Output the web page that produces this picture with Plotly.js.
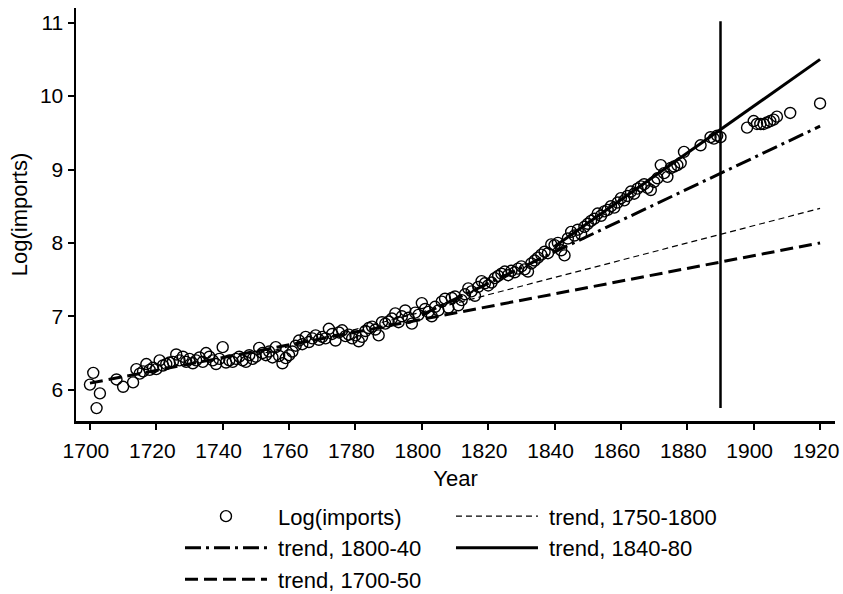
<!DOCTYPE html>
<html>
<head>
<meta charset="utf-8">
<script src="https://cdn.plot.ly/plotly-3.0.1.min.js"></script>
<style>html,body{margin:0;padding:0;background:#fff;}#chart{width:843px;height:594px;}</style>
</head>
<body>
<div id="chart"></div>
<script>
// Observed log(imports)
const years = [1700,1701,1702,1703,1708,1710,1713,1714,1715,1716,1717,1718,1719,1720,1721,1722,1723,1724,1725,1726,1727,1728,1729,1730,1731,1732,1733,1734,1735,1736,1737,1738,1739,1740,1741,1742,1743,1744,1745,1746,1747,1748,1749,1750,1751,1752,1753,1754,1755,1756,1757,1758,1759,1760,1761,1762,1763,1764,1765,1766,1767,1768,1769,1770,1771,1772,1773,1774,1775,1776,1777,1778,1779,1780,1781,1782,1783,1784,1785,1786,1787,1788,1789,1790,1791,1792,1793,1794,1795,1796,1797,1798,1799,1800,1801,1802,1803,1804,1805,1806,1807,1808,1809,1810,1811,1812,1813,1814,1815,1816,1817,1818,1819,1820,1821,1822,1823,1824,1825,1826,1827,1828,1829,1830,1831,1832,1833,1834,1835,1836,1837,1838,1839,1840,1841,1842,1843,1844,1845,1846,1847,1848,1849,1850,1851,1852,1853,1854,1855,1856,1857,1858,1859,1860,1861,1862,1863,1864,1865,1866,1867,1868,1869,1870,1871,1872,1873,1874,1875,1876,1877,1878,1879,1884,1887,1888,1889,1890,1898,1900,1901,1902,1903,1904,1905,1906,1907,1911,1920];
const logImports = [6.07,6.23,5.75,5.95,6.14,6.04,6.10,6.28,6.22,6.25,6.35,6.27,6.30,6.28,6.40,6.33,6.35,6.37,6.38,6.48,6.40,6.45,6.38,6.42,6.36,6.40,6.44,6.38,6.50,6.45,6.40,6.35,6.42,6.58,6.37,6.40,6.38,6.42,6.45,6.40,6.38,6.47,6.42,6.45,6.57,6.50,6.47,6.52,6.44,6.58,6.46,6.36,6.43,6.47,6.52,6.60,6.67,6.62,6.72,6.65,6.70,6.74,6.68,6.72,6.70,6.83,6.76,6.67,6.78,6.81,6.73,6.75,6.70,6.74,6.66,6.72,6.80,6.84,6.86,6.82,6.74,6.92,6.90,6.93,6.97,7.04,6.92,7.00,7.08,6.98,6.90,7.05,7.02,7.18,7.10,7.06,7.00,7.13,7.08,7.20,7.24,7.12,7.25,7.27,7.15,7.22,7.30,7.38,7.34,7.28,7.40,7.48,7.45,7.42,7.46,7.52,7.55,7.58,7.61,7.56,7.62,7.60,7.65,7.68,7.64,7.61,7.72,7.76,7.80,7.84,7.88,7.86,7.98,7.97,8.00,7.90,7.83,8.06,8.15,8.10,8.18,8.12,8.22,8.26,8.30,8.33,8.40,8.37,8.43,8.45,8.50,8.48,8.55,8.61,8.58,8.64,8.70,8.67,8.74,8.77,8.80,8.75,8.72,8.83,8.88,9.06,8.95,8.90,9.02,9.04,9.06,9.09,9.24,9.33,9.44,9.42,9.46,9.44,9.57,9.66,9.62,9.62,9.62,9.64,9.66,9.68,9.72,9.77,9.90];

// Trend lines (endpoints)
const trend1700_50_x = [1700, 1920];
const trend1700_50_y = [6.09, 8.00];
const trend1750_1800_x = [1750, 1920];
const trend1750_1800_y = [6.47, 8.47];
const trend1800_40_x = [1800, 1920];
const trend1800_40_y = [7.02, 9.59];
const trend1840_80_x = [1840, 1920];
const trend1840_80_y = [7.95, 10.50];
const markerLineX = [1890, 1890];
const markerLineY = [5.75, 11.02];

const xTicks = [1700,1720,1740,1760,1780,1800,1820,1840,1860,1880,1900,1920];
const yTicks = [6,7,8,9,10,11];

const FONT = 'Liberation Sans, Arial, Helvetica, sans-serif';
const FS = 21;
const FL = 22;
const SP = '\u00A0';

const traces = [
  {x: years, y: logImports, mode: 'markers', type: 'scatter', name: SP + 'Log(imports)',
   marker: {symbol: 'circle-open', size: 11, color: '#000', line: {width: 1.4, color: '#000'}}},
  {x: trend1750_1800_x, y: trend1750_1800_y, mode: 'lines', type: 'scatter', name: SP + 'trend, 1750-1800',
   line: {color: '#000', width: 1.2, dash: '6px,4px'}},
  {x: trend1800_40_x, y: trend1800_40_y, mode: 'lines', type: 'scatter', name: SP + 'trend, 1800-40',
   line: {color: '#000', width: 3, dash: '16px,5px,3px,5px'}},
  {x: trend1840_80_x, y: trend1840_80_y, mode: 'lines', type: 'scatter', name: SP + 'trend, 1840-80',
   line: {color: '#000', width: 3}},
  {x: trend1700_50_x, y: trend1700_50_y, mode: 'lines', type: 'scatter', name: SP + 'trend, 1700-50',
   line: {color: '#000', width: 3, dash: '13px,6px'}},
  {x: markerLineX, y: markerLineY, mode: 'lines', type: 'scatter', showlegend: false,
   line: {color: '#000', width: 2.5}}
];

const layout = {
  width: 843, height: 594,
  margin: {l: 76, r: 8, t: 8, b: 173, autoexpand: false},
  paper_bgcolor: '#fff', plot_bgcolor: '#fff',
  font: {family: FONT, size: FS, color: '#000'},
  showlegend: true,
  legend: {orientation: 'h', x: 0.137, xanchor: 'left', y: -0.18, yanchor: 'top',
           entrywidth: 174, entrywidthmode: 'pixels', itemwidth: 82,
           font: {family: FONT, size: FL, color: '#000'}, bgcolor: 'rgba(0,0,0,0)'},
  xaxis: {range: [1695.8, 1924.5], tickvals: xTicks, ticktext: xTicks.map(String),
          showline: true, linewidth: 2.5, linecolor: '#000', ticks: 'outside', ticklen: 6, tickwidth: 2, tickcolor: '#000',
          showgrid: false, zeroline: false, tickfont: {size: FS}, ticklabeloverflow: 'allow', automargin: false,
          ticklabelshift: -4, ticklabelstandoff: 3,
          title: {text: 'Year', font: {size: FL}, standoff: 10}},
  yaxis: {range: [5.574, 11.2], tickvals: yTicks, ticktext: yTicks.map(String),
          showline: true, linewidth: 2.5, linecolor: '#000', ticks: 'outside', ticklen: 6, tickwidth: 2, tickcolor: '#000',
          showgrid: false, zeroline: false, tickfont: {size: FS}, ticklabeloverflow: 'allow', automargin: false,
          title: {text: 'Log(imports)', font: {size: FL}, standoff: 6}}
};

Plotly.newPlot('chart', traces, layout, {displayModeBar: false, staticPlot: true});
</script>
</body>
</html>
